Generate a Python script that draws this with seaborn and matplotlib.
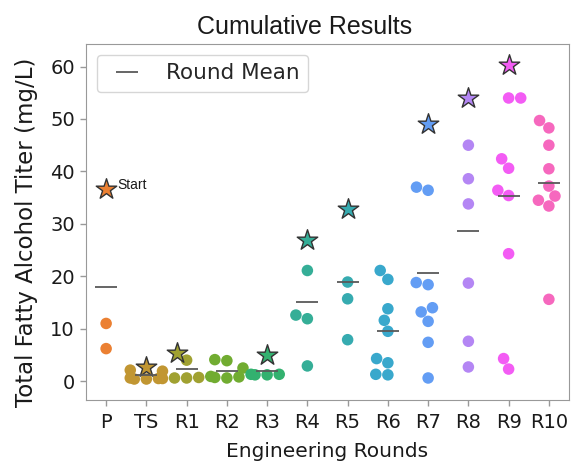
import numpy as np
import pandas as pd
import matplotlib
matplotlib.use('Agg')
import matplotlib.pyplot as plt
from matplotlib.lines import Line2D
import seaborn as sns

# engineering rounds (x categories)
rounds = ['P', 'TS', 'R1', 'R2', 'R3', 'R4', 'R5', 'R6', 'R7', 'R8', 'R9', 'R10']

# titers per round (mg/L), the best strain of a round is included
titer_p = [36.7, 11.0, 6.2]
titer_ts = [2.7, 2.1, 1.9, 0.5, 0.4, 0.5, 0.4, 0.6]
titer_r1 = [5.3, 4.0, 0.6, 0.6, 0.7]
titer_r2 = [4.1, 3.9, 2.5, 0.7, 0.8, 0.6, 0.9]
titer_r3 = [5.0, 1.3, 1.2, 1.3, 1.2]
titer_r4 = [26.9, 21.1, 12.6, 11.9, 2.9]
titer_r5 = [32.9, 18.9, 15.7, 7.9]
titer_r6 = [21.1, 19.4, 13.8, 11.6, 9.5, 4.3, 3.5, 1.3, 1.2]
titer_r7 = [49.1, 37.0, 36.4, 18.8, 18.4, 14.0, 13.2, 11.4, 7.4, 0.6]
titer_r8 = [54.0, 45.0, 38.6, 33.8, 18.7, 7.6, 2.7]
titer_r9 = [60.2, 54.0, 54.0, 42.4, 40.6, 36.4, 35.4, 24.3, 4.3, 2.3]
titer_r10 = [49.7, 48.3, 45.0, 40.5, 37.2, 35.3, 34.5, 33.4, 15.6]

# strains drawn as stars (None = no star in that round)
star_titer = [36.7, 2.7, 5.3, None, 5.0, 26.9, 32.9, None, 49.1, 54.0, 60.2, None]

all_titers = [titer_p, titer_ts, titer_r1, titer_r2, titer_r3, titer_r4,
              titer_r5, titer_r6, titer_r7, titer_r8, titer_r9, titer_r10]

df = pd.DataFrame({
    'round': [r for r, vals in zip(rounds, all_titers) for _ in vals],
    'titer': [v for vals in all_titers for v in vals],
})

sns.set_style('ticks', {'axes.edgecolor': '0.6', 'xtick.color': '0.6',
                        'ytick.color': '0.6'})
plt.rcParams['font.family'] = ['DejaVu Sans']
plt.rcParams['xtick.labelcolor'] = '0.1'
plt.rcParams['ytick.labelcolor'] = '0.1'

palette = sns.color_palette('husl', 13)[1:]

fig = plt.figure(figsize=(5.72, 4.63), dpi=100)
ax = fig.add_axes([86 / 572, 1 - 400 / 463, 483 / 572, 356 / 463])

sns.swarmplot(data=df, x='round', y='titer', hue='round', order=rounds,
              hue_order=rounds, palette=palette, size=8.3, legend=False, ax=ax)

ax.set_xlim(-0.5, 11.5)
ax.set_ylim(-3.6, 64.3)

# run the swarm layout so the point positions are known
fig.canvas.draw()

for i, (coll, star) in enumerate(zip(ax.collections, star_titer)):
    if star is None:
        continue
    offs = coll.get_offsets()
    k = int(np.argmin(np.abs(offs[:, 1] - star)))
    fc = np.tile(coll.get_facecolors()[0], (len(offs), 1))
    fc[k, 3] = 0.0
    coll.set_facecolor(fc)
    ax.scatter(offs[k, 0], offs[k, 1], marker='*', s=240, color=palette[i],
               edgecolor='0.2', linewidth=1.0, zorder=4)

# round means
means = df.groupby('round')['titer'].mean().reindex(rounds)
ax.plot(np.arange(len(rounds)), means.values, linestyle='none', marker='_',
        markersize=16, markeredgewidth=1.3, color='0.35', zorder=5)

ax.text(0.27, star_titer[0] + 0.7, 'Start', fontsize=10,
        family='Liberation Sans', va='center', ha='left', color='0.1')

ax.tick_params(axis='x', labelsize=14, length=4, width=1, pad=5)
ax.tick_params(axis='y', labelsize=14, length=4, width=1, pad=4)
ax.set_yticks([0, 10, 20, 30, 40, 50, 60])
ax.set_xlabel('Engineering Rounds', fontsize=14.5, color='0.1')
ax.set_ylabel('Total Fatty Alcohol Titer (mg/L)', fontsize=16.5, color='0.1')
ax.yaxis.set_label_coords(-0.10, 0.47)
ax.xaxis.set_label_coords(0.5, -0.118)

fig.text(305 / 572, 1 - 34 / 463, 'Cumulative Results', fontsize=18,
         family='Liberation Sans', ha='center', va='baseline', color='0.1')

handle = Line2D([], [], linestyle='none', marker='_', markersize=16,
                markeredgewidth=1.3, color='0.35')
ax.legend([handle], ['Round Mean'], loc='upper left', fontsize=15.5,
          frameon=True, borderaxespad=0.5)

fig.savefig('out.png', dpi=100)
